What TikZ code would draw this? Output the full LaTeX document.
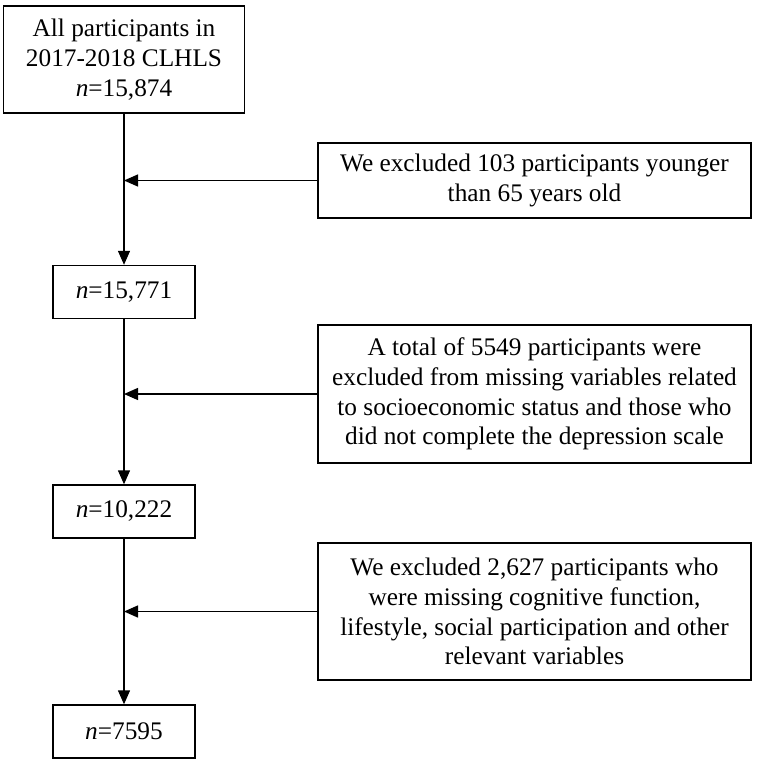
\documentclass[tikz,border=0pt]{standalone}
\usepackage{fontspec}
\setmainfont{Liberation Serif}
\usepackage{tikz}
\usetikzlibrary{arrows.meta,positioning,calc}

\begin{document}
\begin{tikzpicture}[x=1pt,y=1pt,font=\fontsize{25.3}{29.8}\selectfont,
    line width=1.4pt,
    box/.style={draw,align=center,inner sep=0pt},
    nbox/.style={box,minimum width=142pt,minimum height=53pt},
    xbox/.style={box,minimum width=433pt},
    arr/.style={-{Triangle[length=14pt,width=12pt]}}]
    \useasboundingbox (0,0) rectangle (758,-765);
    % main column
    \node[box,minimum width=241pt,minimum height=107pt] (all) at (124,-59.5)
      {All participants in\\2017-2018 CLHLS\\\textit{n}=15,874};
    \node[nbox] (n1) at (124,-292) {\textit{n}=15,771};
    \node[nbox] (n2) at (124,-511.5) {\textit{n}=10,222};
    \node[nbox] (n3) at (124,-731.5) {\textit{n}=7595};
    % exclusions
    \node[xbox,minimum height=75pt] (ex1) at (534.5,-180.5)
      {We excluded 103 participants younger\\than 65 years old};
    \node[xbox,minimum height=138pt] (ex2) at (534.5,-394)
      {A total of 5549 participants were\\excluded from missing variables related\\to socioeconomic status and those who\\did not complete the depression scale};
    \node[xbox,minimum height=137pt] (ex3) at (534.5,-611.5)
      {We excluded 2,627 participants who\\were missing cognitive function,\\lifestyle, social participation and other\\relevant variables};
    \draw[arr] (all) -- (n1);
    \draw[arr] (n1) -- (n2);
    \draw[arr] (n2) -- (n3);
    \foreach \e/\s in {ex1/all,ex2/n1,ex3/n2} {
      \coordinate (j-\e) at (\e.west -| \s.south);
      \draw[arr] (\e.west) -- (j-\e);
    }
\end{tikzpicture}
\end{document}
